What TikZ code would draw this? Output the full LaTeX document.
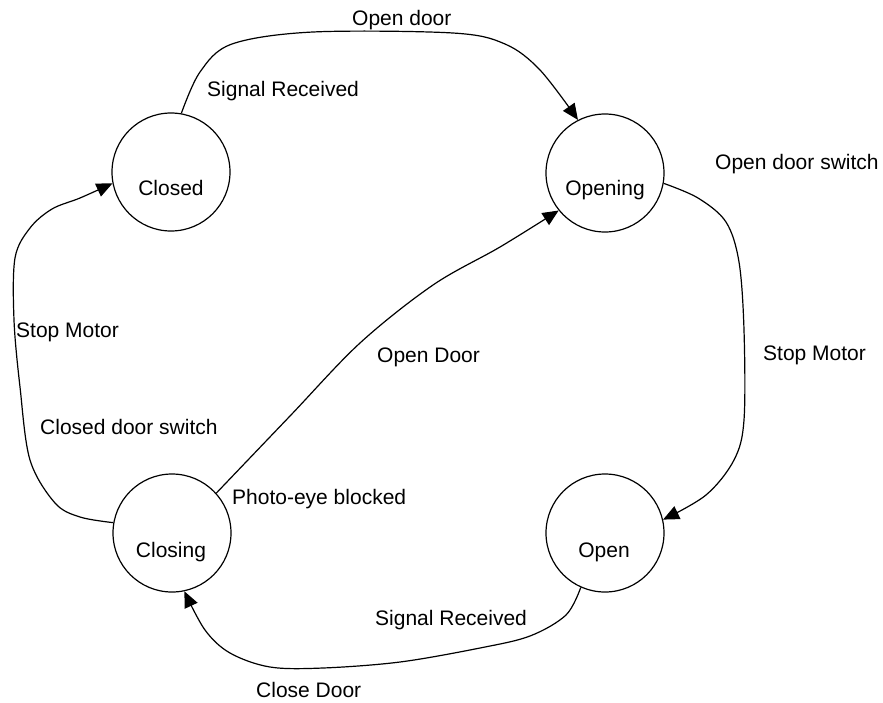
\documentclass[tikz,border=0pt]{standalone}
\usepackage{fontspec}
\setmainfont{Liberation Sans}
\usetikzlibrary{arrows.meta}
\begin{document}
\begin{tikzpicture}[x=1pt,y=1pt,
  state/.style={circle, draw, line width=1.2pt, minimum size=118pt, inner sep=0pt},
  lbl/.style={font=\fontsize{21}{25}\selectfont, inner sep=0pt, anchor=base west},
  slbl/.style={font=\fontsize{21}{25}\selectfont, inner sep=0pt, anchor=base},
  trans/.style={line width=1.2pt, -{Triangle[length=16pt,width=14pt]}}
]
\useasboundingbox[fill=white] (0,0) rectangle (883,-702);

% states
\node[state] (closed)  at (171,-172) {};
\node[state] (opening) at (605,-173) {};
\node[state] (closing) at (172,-533) {};
\node[state] (open)    at (605,-533) {};

% state names
\node[slbl] (tclosed)  at (171,-195.5) {Closed};
\node[slbl] (topening) at (605,-195.5) {Opening};
\node[slbl] (tclosing) at (171,-557.5) {Closing};
\node[slbl] (topen)    at (604,-557.5) {Open};

% transitions
\draw[trans] plot[smooth, tension=0.55] coordinates
  {(closed.80) (200,-72) (232,-44) (313,-32) (453,-33) (505,-44) (540,-70) (opening.117)};
\draw[trans] plot[smooth, tension=0.55] coordinates
  {(opening.-10) (698,-198) (726,-222) (739,-262) (744,-330) (744,-420) (734,-460) (706,-495) (open.13)};
\draw[trans] plot[smooth, tension=0.55] coordinates
  {(open.-114) (566,-615) (530,-636) (480,-648) (400,-662) (323,-668) (270,-667) (230,-653) (205,-630) (closing.-78)};
\draw[trans] plot[smooth, tension=0.55] coordinates
  {(closing.170) (80,-517) (55,-503) (30,-460) (20,-387) (14,-320) (15,-258) (30,-228) (52,-209) (80,-198) (closed.191)};
\draw[trans] plot[smooth, tension=0.55] coordinates
  {(closing.42) (290,-416) (360,-343) (433,-285) (500,-247) (opening.219)};

% transition labels
\node[lbl] (l1) at (352,-25.5)  {Open door};
\node[lbl] (l2) at (207,-96.5)  {Signal Received};
\node[lbl] (l3) at (715,-169.5) {Open door switch};
\node[lbl] (l4) at (763,-360.5) {Stop Motor};
\node[lbl] (l5) at (16,-337.5)  {Stop Motor};
\node[lbl] (l6) at (40,-434.5)  {Closed door switch};
\node[lbl] (l7) at (377,-362.5) {Open Door};
\node[lbl] (l8) at (232,-504.5) {Photo-eye blocked};
\node[lbl] (l9) at (375,-625.5) {Signal Received};
\node[lbl] (l10) at (256,-697.5) {Close Door};
\end{tikzpicture}
\end{document}
